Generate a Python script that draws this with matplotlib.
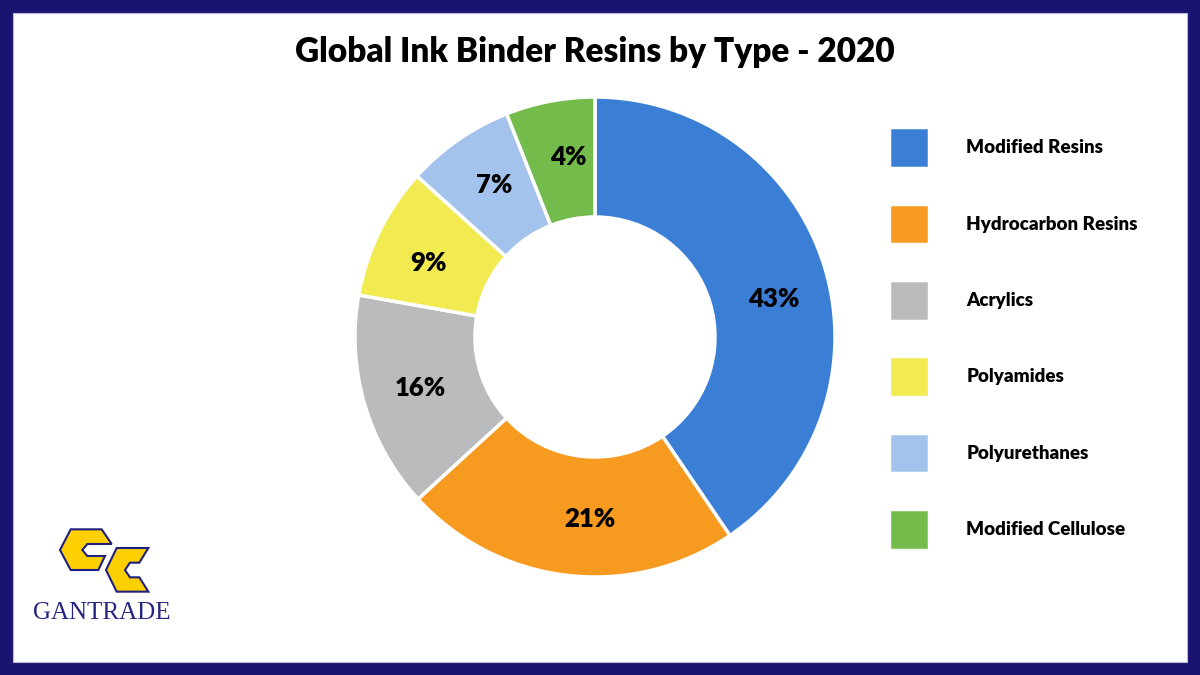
import matplotlib
matplotlib.use("Agg")
import matplotlib.pyplot as plt
from matplotlib.patches import Rectangle, Polygon
import numpy as np

# data
categories = ["Modified Resins", "Hydrocarbon Resins", "Acrylics",
              "Polyamides", "Polyurethanes", "Modified Cellulose"]
shares = [40.5, 22.7, 14.6, 8.9, 7.3, 6.0]      # slice sizes as drawn
pct_labels = ["43%", "21%", "16%", "9%", "7%", "4%"]  # printed labels
colors = ["#3A7FD5", "#F79A20", "#BABBBD", "#F1EA50", "#A4C3EC", "#73BC4B"]
label_nudge = [5, -5, 0, -2, 1, 2.5]  # degrees, labels sit a bit off-centre

W, H = 1200, 675
plt.rcParams['font.family'] = ['Lato', 'DejaVu Sans']
fig = plt.figure(figsize=(W / 100, H / 100), dpi=100)
fig.patch.set_facecolor("#1A1470")

# white panel inside the navy frame
b = 13
fig.add_artist(Rectangle((b / W, b / H), 1 - 2 * b / W, 1 - 2 * b / H,
                         transform=fig.transFigure, facecolor="white",
                         edgecolor="#B8B8D8", linewidth=0.8, zorder=-10))

fig.text(595 / W, 1 - 52 / H, "Global Ink Binder Resins by Type - 2020",
         ha="center", va="center", fontsize=24, fontweight="heavy", color="black")

# donut
cx, cy, r = 595, 337, 240
ax = fig.add_axes([(cx - r) / W, 1 - (cy + r) / H, 2 * r / W, 2 * r / H])
wedges, _ = ax.pie(shares, colors=colors, startangle=90, counterclock=False,
                   wedgeprops=dict(width=0.5, edgecolor="white", linewidth=2.5))
ax.set_xlim(-1, 1)
ax.set_ylim(-1, 1)
ax.set_aspect("equal")

for w, lab, nd in zip(wedges, pct_labels, label_nudge):
    ang = np.deg2rad((w.theta1 + w.theta2) / 2 - nd)
    ax.text(0.76 * np.cos(ang), 0.76 * np.sin(ang), lab, ha="center", va="center",
            fontsize=18.5, fontweight="heavy", color="black")

# legend
fs = 13.5
fig.legend(wedges, categories, loc="upper left",
           bbox_to_anchor=(880 / W, 1 - 118 / H), frameon=False,
           prop=dict(weight="heavy", size=fs),
           handlelength=2.1, handleheight=2.95, handletextpad=2.0,
           labelspacing=1.91, borderpad=0)

# logo
def px(pts, ox, oy, s=3):
    return [((ox + x / s) / W, 1 - (oy + y / s) / H) for x, y in pts]

g_shape = [(30, 90), (62, 28), (155, 28), (185, 72), (112, 72), (97, 90),
           (112, 108), (165, 108), (145, 150), (62, 150)]
c_shape = [(168, 150), (200, 84), (295, 84), (268, 128), (240, 128), (225, 150),
           (240, 172), (268, 172), (295, 215), (200, 215)]
for shp in (g_shape, c_shape):
    fig.add_artist(Polygon(px(shp, 50, 520), closed=True, transform=fig.transFigure,
                           facecolor="#FFD000", edgecolor="#1F1F80", linewidth=1.5))
fig.text(102 / W, 1 - 613 / H, "GANTRADE", ha="center", va="center",
         fontsize=18, family="Liberation Serif", color="#262680")

fig.savefig("out.png", dpi=100, facecolor=fig.get_facecolor())
